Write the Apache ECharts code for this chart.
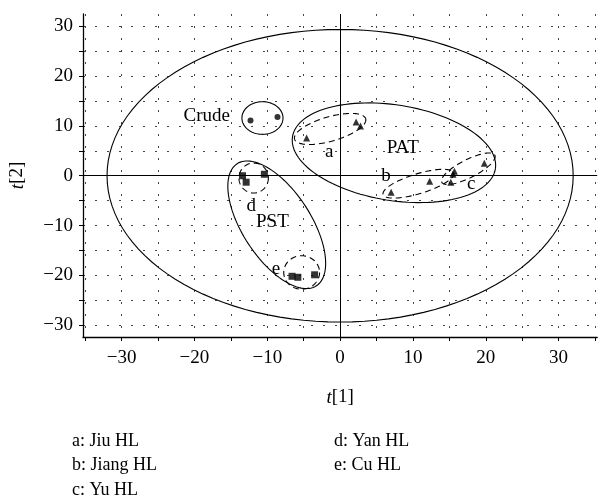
<!DOCTYPE html>
<html>
<head>
<meta charset="utf-8">
<script src="https://cdn.jsdelivr.net/npm/echarts@6/dist/echarts.min.js"></script>
<style>html,body{margin:0;padding:0;background:#fff;}#c{width:598px;height:504px;}</style>
</head>
<body>
<div id="c"></div>
<script>
// ---- data (scores) ----
const crudePts = [[-12.3, 11.1], [-8.6, 11.8]];
const groupA = [[-4.6, 7.6], [2.2, 10.8], [2.8, 10.0]];
const groupB = [[7.0, -3.3], [12.3, -1.1], [15.2, -1.3]];
const groupC = [[15.5, 0.3], [15.7, 0.9], [19.8, 2.5]];
const groupD = [[-13.4, 0.0], [-12.9, -1.3], [-10.4, 0.3]];
const groupE = [[-6.6, -20.2], [-5.8, -20.4], [-3.5, -19.9]];
// ellipses: [cx, cy, semi-axis a (x units), semi-axis b (y units), rotation deg]
const solidEllipses = [[0, 0, 32.0, 29.4, 0], [-10.66, 11.6, 2.82, 3.28, 0], [7.39, 4.62, 14.1, 9.6, 9], [-8.7, -9.85, 9.99, 6.87, 57]];
const dashedEllipses = [[-1.37, 9.4, 5.08, 2.45, -16], [10.75, -1.6, 5.07, 2.0, -17], [17.6, 1.41, 4.09, 1.81, -27], [-11.87, -0.46, 2.02, 3.01, 0], [-5.28, -19.43, 2.46, 3.36, 0]];
// annotation labels
const labelText = ['Crude', 'PAT', 'PST', 'a', 'b', 'c', 'd', 'e'];
const labelPos = [[-18.3, 12.0], [8.6, 5.6], [-9.3, -9.2], [-1.5, 4.7], [6.3, 0.0], [18.0, -1.6], [-12.2, -6.1], [-8.8, -18.7]];
const xTicks = [-30, -20, -10, 0, 10, 20, 30];
const yTicks = [-30, -20, -10, 0, 10, 20, 30];
const footnotes = [['a: Jiu HL', 'd: Yan HL'], ['b: Jiang HL', 'e: Cu HL'], ['c: Yu HL', '']];

const FONT = 'Liberation Serif';
const chart = echarts.init(document.getElementById('c'), null, {renderer: 'canvas'});

function fmt(v) {
  const r = Math.round(v);
  if (Math.abs(v - r) > 1e-6 || r % 10 !== 0) return '';
  return r < 0 ? '\u2212' + Math.abs(r) : String(r);
}

function ellipseSeries(list, dashed) {
  return {
    type: 'custom',
    coordinateSystem: 'cartesian2d',
    silent: true,
    clip: true,
    data: list,
    encode: {x: 0, y: 1},
    renderItem: function (params, api) {
      const c = api.coord([api.value(0), api.value(1)]);
      const s = api.size([1, 1]);
      const a = api.value(2) * s[0], b = api.value(3) * s[1];
      const th = api.value(4) * Math.PI / 180;
      const pts = [];
      for (let i = 0; i <= 120; i++) {
        const t = i / 120 * Math.PI * 2;
        const ex = a * Math.cos(t), ey = b * Math.sin(t);
        pts.push([c[0] + ex * Math.cos(th) - ey * Math.sin(th), c[1] + ex * Math.sin(th) + ey * Math.cos(th)]);
      }
      return {type: 'polyline', shape: {points: pts}, style: {fill: null, stroke: '#000', lineWidth: 1.1, lineDash: dashed ? [6, 4] : null}};
    }
  };
}

function pts(data, symbol, size) {
  return {type: 'scatter', data: data, symbol: symbol, symbolSize: size, itemStyle: {color: '#000'}, silent: true, z: 5};
}

const footGraphics = [];
const footY = [441, 465, 490];
footnotes.forEach((row, i) => {
  row.forEach((t, j) => {
    if (!t) return;
    footGraphics.push({type: 'text', x: j === 0 ? 72 : 334, y: footY[i], style: {text: t, font: '18px "' + FONT + '"', fill: '#000', verticalAlign: 'middle', align: 'left'}});
  });
});

chart.setOption({
  animation: false,
  backgroundColor: '#fff',
  grid: {left: 73, right: 0, top: 14, bottom: 167, containLabel: false},
  xAxis: {
    type: 'value', min: -35.3, max: 35.3, splitNumber: 14,
    name: '{i|t}[1]', nameLocation: 'middle', nameGap: 51,
    nameTextStyle: {fontFamily: FONT, fontSize: 19, color: '#000', rich: {i: {fontFamily: FONT, fontSize: 19, fontStyle: 'italic', color: '#000'}}},
    axisLine: {onZero: false, lineStyle: {color: '#000', width: 1.3}},
    axisTick: {show: true, length: 4, lineStyle: {color: '#000'}},
    axisLabel: {formatter: fmt, fontFamily: FONT, fontSize: 19, color: '#000', margin: 12, showMinLabel: false, showMaxLabel: false},
    splitLine: {show: true, showMinLine: false, showMaxLine: false, lineStyle: {color: '#444', type: [2, 10], width: 1}}
  },
  yAxis: {
    type: 'value', min: -32.4, max: 32.5, splitNumber: 13,
    name: '{i|t}[2]', nameLocation: 'middle', nameGap: 56,
    nameTextStyle: {fontFamily: FONT, fontSize: 19, color: '#000', rich: {i: {fontFamily: FONT, fontSize: 19, fontStyle: 'italic', color: '#000'}}},
    axisLine: {onZero: false, lineStyle: {color: '#000', width: 1.3}},
    axisTick: {show: true, length: 4, lineStyle: {color: '#000'}},
    axisLabel: {formatter: fmt, fontFamily: FONT, fontSize: 19, color: '#000', margin: 10, showMinLabel: false, showMaxLabel: false},
    splitLine: {show: true, showMinLine: false, showMaxLine: false, lineStyle: {color: '#444', type: [2, 10], width: 1}}
  },
  graphic: footGraphics,
  series: [
    ellipseSeries(solidEllipses, false),
    ellipseSeries(dashedEllipses, true),
    pts(crudePts, 'circle', 6),
    pts(groupA, 'triangle', 7),
    pts(groupB, 'triangle', 7),
    pts(groupC, 'triangle', 7),
    pts(groupD, 'rect', 7),
    pts(groupE, 'rect', 7),
    {
      type: 'custom', coordinateSystem: 'cartesian2d', silent: true, z: 6,
      data: labelPos.map((p, i) => [p[0], p[1], i]),
      encode: {x: 0, y: 1},
      renderItem: function (params, api) {
        const c = api.coord([api.value(0), api.value(1)]);
        return {type: 'text', x: c[0], y: c[1], style: {text: labelText[api.value(2)], font: '19px "' + FONT + '"', fill: '#000', align: 'center', verticalAlign: 'middle'}};
      },
      markLine: {silent: true, symbol: ['none', 'none'], label: {show: false}, lineStyle: {color: '#000', width: 1, type: 'solid'}, data: [{xAxis: 0}, {yAxis: 0}]}
    }
  ]
});
</script>
</body>
</html>
